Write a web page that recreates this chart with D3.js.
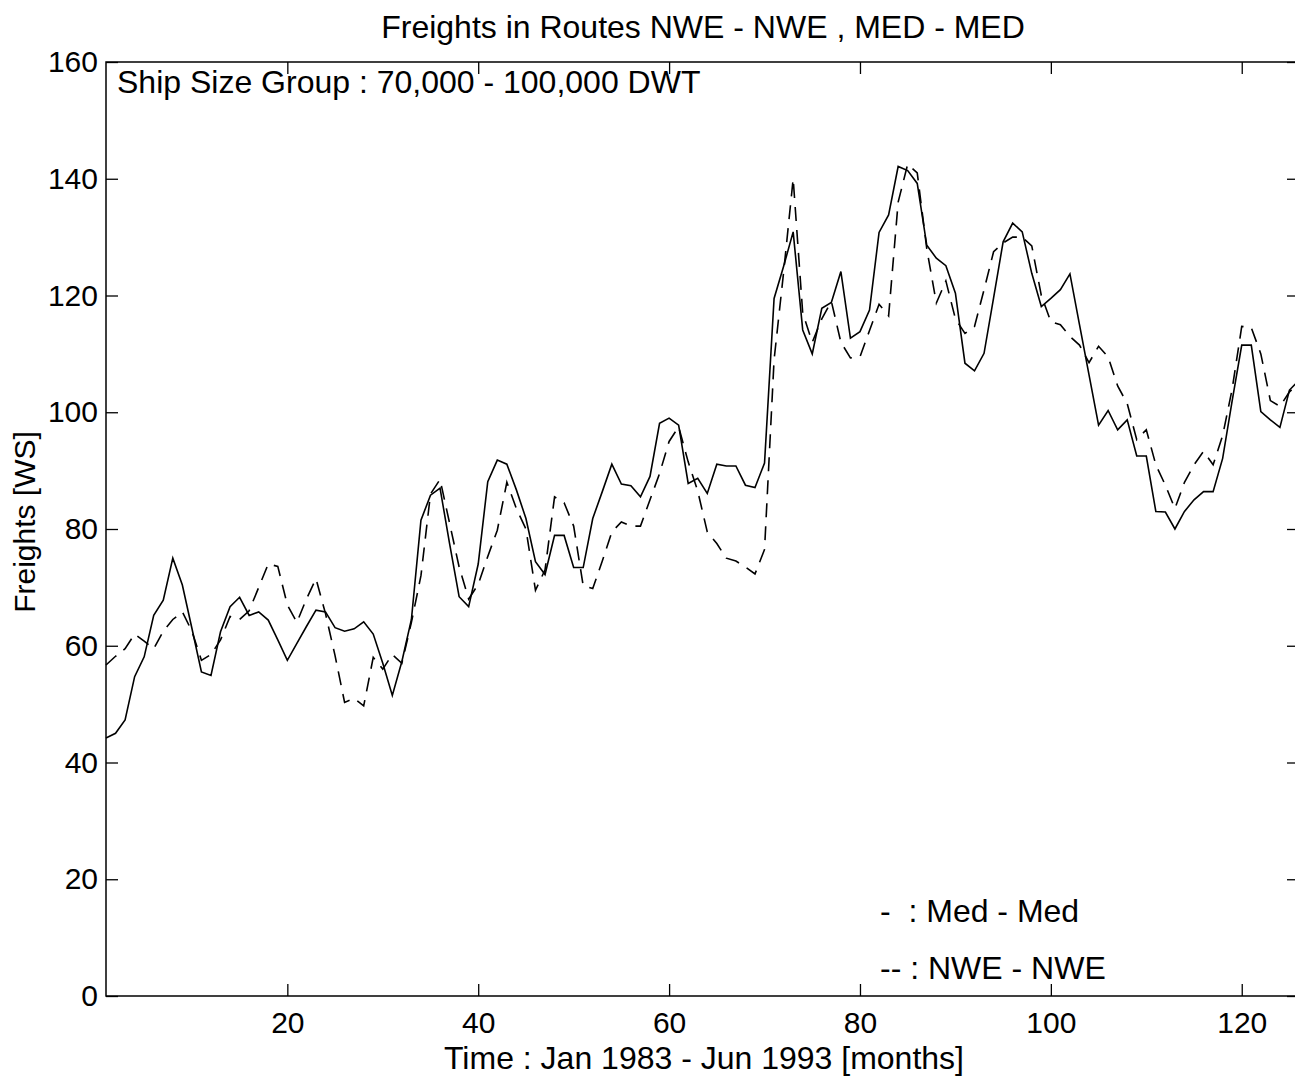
<!DOCTYPE html>
<html>
<head>
<meta charset="utf-8">
<script src="https://cdn.jsdelivr.net/npm/d3@7"></script>
<style>
  body { margin: 0; background: #fff; }
  svg { display: block; }
  text { font-family: "Liberation Sans", Arial, Helvetica, sans-serif; fill: #000; }
</style>
</head>
<body>
<div id="chart"></div>
<script>
// months 1..126 (Jan 1983 - Jun 1993)
var medMed = [44.2, 45.0, 47.3, 54.7, 58.1, 65.2, 67.8, 75.0, 70.4, 63.0,
    55.5, 54.9, 62.4, 66.7, 68.3, 65.2, 65.8, 64.4, 61.0, 57.5,
    60.4, 63.3, 66.1, 65.8, 63.1, 62.5, 62.9, 64.1, 62.0, 57.0,
    51.5, 57.3, 64.5, 81.5, 85.8, 87.0, 77.5, 68.4, 66.7, 74.0,
    88.1, 91.8, 91.1, 86.7, 81.8, 74.4, 72.2, 78.9, 78.9, 73.4,
    73.4, 81.8, 86.4, 91.1, 87.7, 87.4, 85.5, 89.0, 98.1, 99.0,
    97.8, 87.8, 88.7, 86.1, 91.1, 90.8, 90.8, 87.5, 87.1, 91.3,
    119.5, 125.0, 130.9, 114.1, 110.0, 117.8, 118.8, 124.1, 112.7, 113.8,
    117.5, 130.8, 133.8, 142.1, 141.4, 139.2, 128.6, 126.4, 125.1, 120.4,
    108.4, 107.1, 110.1, 119.6, 129.2, 132.4, 130.9, 123.8, 118.1, 119.5,
    121.0, 123.7, 115.0, 106.4, 97.8, 100.3, 97.0, 98.7, 92.5, 92.5,
    83.0, 82.9, 80.0, 83.0, 85.0, 86.4, 86.4, 92.1, 102.0, 111.5,
    111.5, 100.1, 98.7, 97.4, 103.8, 105.5];

var nweNwe = [56.7, 58.2, 59.5, 62.0, 60.8, 59.5, 62.5, 64.5, 65.8, 62.5,
    57.5, 58.5, 61.0, 65.0, 64.5, 66.0, 70.0, 74.0, 73.6, 67.0,
    64.0, 68.0, 71.5, 65.5, 58.3, 50.3, 51.0, 49.7, 58.0, 56.0,
    58.5, 57.0, 64.0, 72.0, 86.0, 88.5, 81.0, 73.5, 68.0, 70.5,
    75.3, 79.8, 88.0, 83.5, 80.0, 69.5, 73.0, 85.5, 84.5, 80.5,
    70.3, 69.8, 74.5, 79.5, 81.2, 80.5, 80.5, 85.0, 89.5, 95.0,
    97.5, 91.5, 86.5, 79.5, 77.5, 75.0, 74.5, 73.5, 72.3, 76.5,
    109.0, 124.0, 140.0, 117.0, 112.0, 116.0, 119.0, 112.0, 109.3, 109.5,
    114.0, 118.5, 116.5, 136.0, 142.5, 141.0, 128.0, 118.7, 122.5, 116.0,
    113.5, 114.7, 121.0, 127.5, 129.0, 130.0, 130.0, 128.5, 120.0, 115.5,
    115.0, 113.0, 111.5, 108.5, 111.3, 109.5, 104.5, 101.5, 95.3, 97.0,
    91.0, 87.5, 83.5, 88.0, 91.0, 93.3, 91.0, 96.0, 104.0, 114.7,
    114.5, 110.0, 102.0, 101.0, 103.5, 105.0];

var xTicks = [20, 40, 60, 80, 100, 120];
var yTicks = [0, 20, 40, 60, 80, 100, 120, 140, 160];

var titleText = 'Freights in Routes NWE - NWE , MED - MED';
var subtitleText = 'Ship Size Group : 70,000 - 100,000 DWT';
var xLabel = 'Time : Jan 1983 - Jun 1993 [months]';
var yLabel = 'Freights [WS]';
var legendItems = ['-  : Med - Med', '-- : NWE - NWE'];

var W = 1295, H = 1080;
var margin = { top: 62, right: -4, bottom: 84, left: 106 };
var width = W - margin.left - margin.right,
    height = H - margin.top - margin.bottom;

var svg = d3.select('#chart').append('svg')
    .attr('width', W)
    .attr('height', H);

var g = svg.append('g')
    .attr('transform', 'translate(' + margin.left + ',' + margin.top + ')');

var x = d3.scaleLinear().domain([1, 126]).range([0, width]);
var y = d3.scaleLinear().domain([0, 160]).range([height, 0]);

var tickLen = 12;

// axes, ticks pointing inwards like matlab
g.append('g')
    .attr('class', 'axis')
    .call(d3.axisLeft(y).tickValues(yTicks).tickSize(-tickLen).tickPadding(8));
g.append('g')
    .attr('class', 'axis')
    .attr('transform', 'translate(0,' + height + ')')
    .call(d3.axisBottom(x).tickValues(xTicks).tickSize(-tickLen).tickPadding(16));
g.append('g')
    .attr('class', 'axis')
    .call(d3.axisTop(x).tickValues(xTicks).tickSize(-tickLen).tickFormat(''));
g.append('g')
    .attr('class', 'axis')
    .attr('transform', 'translate(' + width + ',0)')
    .call(d3.axisRight(y).tickValues(yTicks).tickSize(-tickLen).tickFormat(''));

g.selectAll('.axis path').remove();
g.selectAll('.axis line').attr('stroke', '#000').attr('stroke-width', 1.3);
g.selectAll('.axis text')
    .style('font-size', '30px')
    .style('font-family', '"Liberation Sans", Arial, sans-serif')
    .attr('fill', '#000');

// frame
g.append('rect')
    .attr('x', 0).attr('y', 0)
    .attr('width', width).attr('height', height)
    .attr('fill', 'none')
    .attr('stroke', '#000')
    .attr('stroke-width', 1.5);

var line = d3.line()
    .x(function(d, i) { return x(i + 1); })
    .y(function(d) { return y(d); });

g.append('path')
    .datum(nweNwe)
    .attr('d', line)
    .attr('fill', 'none')
    .attr('stroke', '#000')
    .attr('stroke-width', 1.6)
    .attr('stroke-dasharray', '14,9');

g.append('path')
    .datum(medMed)
    .attr('d', line)
    .attr('fill', 'none')
    .attr('stroke', '#000')
    .attr('stroke-width', 1.6);

// texts
svg.append('text')
    .attr('x', 703).attr('y', 38)
    .attr('text-anchor', 'middle')
    .style('font-size', '32px')
    .text(titleText);

svg.append('text')
    .attr('x', 117).attr('y', 93)
    .style('font-size', '32px')
    .text(subtitleText);

svg.append('text')
    .attr('x', 704).attr('y', 1069)
    .attr('text-anchor', 'middle')
    .style('font-size', '32px')
    .text(xLabel);

svg.append('text')
    .attr('transform', 'translate(35,522) rotate(-90)')
    .attr('text-anchor', 'middle')
    .style('font-size', '30px')
    .text(yLabel);

svg.selectAll('.legend')
    .data(legendItems)
    .enter()
    .append('text')
    .attr('class', 'legend')
    .attr('x', 880)
    .attr('y', function(d, i) { return 922 + i * 57; })
    .style('font-size', '32px')
    .style('white-space', 'pre')
    .text(function(d) { return d; });
</script>
</body>
</html>
